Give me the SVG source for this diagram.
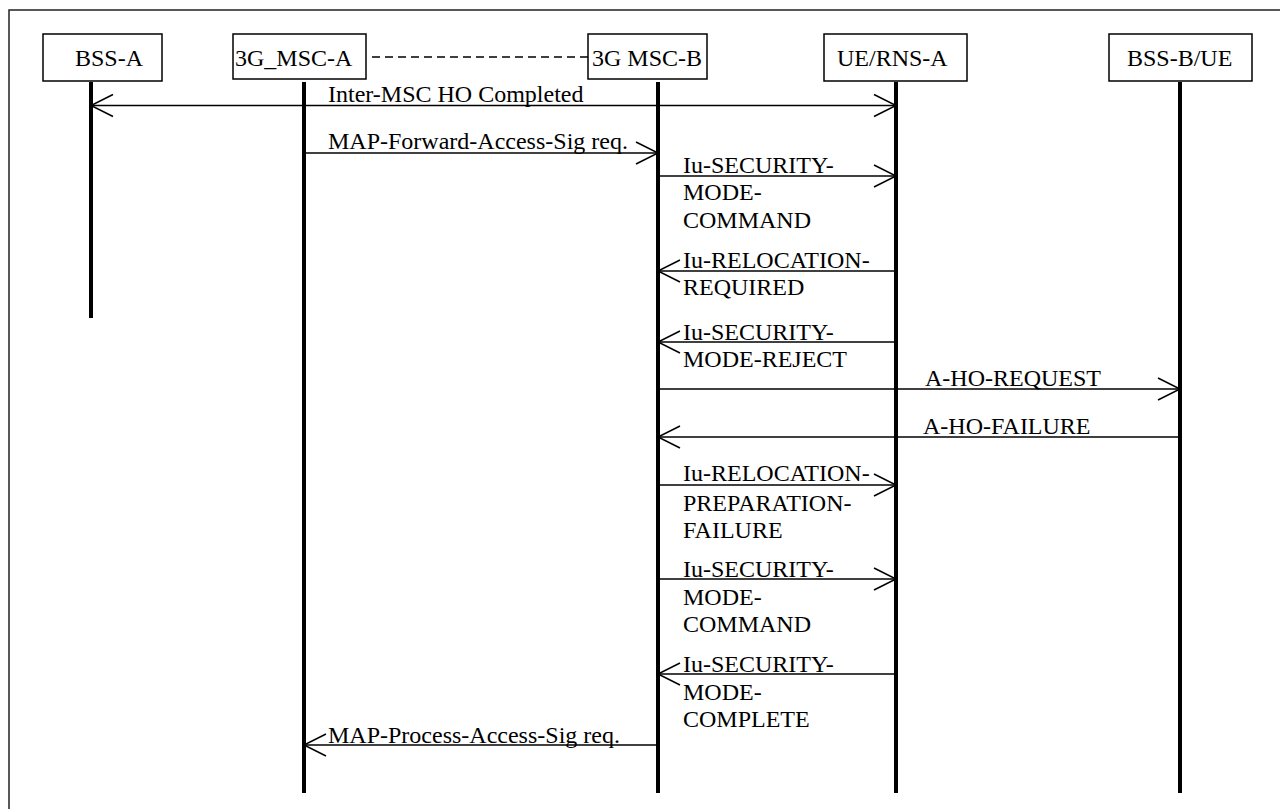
<svg xmlns="http://www.w3.org/2000/svg" width="1280" height="809" viewBox="0 0 1280 809">
<defs>
<style>
text{font-family:"Liberation Serif","Times New Roman",serif;font-size:24px;fill:#000}
.box{fill:#fff;stroke:#000;stroke-width:1.5}
.life{stroke:#000;stroke-width:4}
.msg{stroke:#000;stroke-width:1.5;fill:none;marker-end:url(#arr)}
</style>
<marker id="arr" markerUnits="userSpaceOnUse" markerWidth="30" markerHeight="30" refX="22" refY="11" orient="auto-start-reverse" overflow="visible">
<path d="M0,0 L22,11 L0,22" fill="none" stroke="#000" stroke-width="1.5"/>
</marker>
</defs>
<rect x="0" y="0" width="1280" height="809" fill="#fff"/>
<rect x="9" y="10" width="1300" height="840" fill="none" stroke="#222" stroke-width="1.5"/>

<g id="bss-a">
<rect class="box" x="43" y="34" width="119" height="47"/>
<text x="75" y="66">BSS-A</text>
<line class="life" x1="91" y1="82" x2="91" y2="318"/>
</g>
<g id="msc-a">
<rect class="box" x="233" y="34" width="133" height="45"/>
<text x="235" y="66">3G_MSC-A</text>
<line class="life" x1="304" y1="82" x2="304" y2="793"/>
</g>
<g id="msc-b">
<rect class="box" x="588" y="34" width="119" height="45"/>
<text x="592" y="66">3G MSC-B</text>
<line class="life" x1="658" y1="82" x2="658" y2="793"/>
</g>
<g id="ue-rns-a">
<rect class="box" x="824" y="34" width="143" height="47"/>
<text x="837" y="66">UE/RNS-A</text>
<line class="life" x1="896" y1="82" x2="896" y2="793"/>
</g>
<g id="bss-b-ue">
<rect class="box" x="1109" y="34" width="143" height="47"/>
<text x="1127" y="66">BSS-B/UE</text>
<line class="life" x1="1180" y1="82" x2="1180" y2="793"/>
</g>

<g id="connectors">
<line x1="372" y1="57" x2="588" y2="57" stroke="#000" stroke-width="1.5" stroke-dasharray="8,5"/>
<line class="msg" x1="91" y1="105.5" x2="896" y2="105.5" style="marker-start:url(#arr)"/>
<line class="msg" x1="304" y1="153" x2="658" y2="153"/>
<line class="msg" x1="658" y1="176" x2="896" y2="176"/>
<line class="msg" x1="896" y1="271" x2="658" y2="271"/>
<line class="msg" x1="896" y1="342" x2="658" y2="342"/>
<line class="msg" x1="658" y1="389" x2="1180" y2="389"/>
<line class="msg" x1="1180" y1="437" x2="658" y2="437"/>
<line class="msg" x1="658" y1="485" x2="896" y2="485"/>
<line class="msg" x1="658" y1="579" x2="896" y2="579"/>
<line class="msg" x1="896" y1="674" x2="658" y2="674"/>
<line class="msg" x1="658" y1="745" x2="304" y2="745"/>
</g>

<g id="labels">
<text x="328" y="102">Inter-MSC HO Completed</text>
<text x="328" y="149">MAP-Forward-Access-Sig req.</text>
<text x="683" y="173">Iu-SECURITY-</text>
<text x="683" y="200">MODE-</text>
<text x="683" y="228">COMMAND</text>
<text x="683" y="268">Iu-RELOCATION-</text>
<text x="683" y="295">REQUIRED</text>
<text x="683" y="340">Iu-SECURITY-</text>
<text x="683" y="367">MODE-REJECT</text>
<text x="925" y="386">A-HO-REQUEST</text>
<text x="923" y="434">A-HO-FAILURE</text>
<text x="683" y="481">Iu-RELOCATION-</text>
<text x="683" y="511">PREPARATION-</text>
<text x="683" y="538">FAILURE</text>
<text x="683" y="577">Iu-SECURITY-</text>
<text x="683" y="605">MODE-</text>
<text x="683" y="632">COMMAND</text>
<text x="683" y="672">Iu-SECURITY-</text>
<text x="683" y="700">MODE-</text>
<text x="683" y="727">COMPLETE</text>
<text x="328" y="743">MAP-Process-Access-Sig req.</text>
</g>
</svg>
